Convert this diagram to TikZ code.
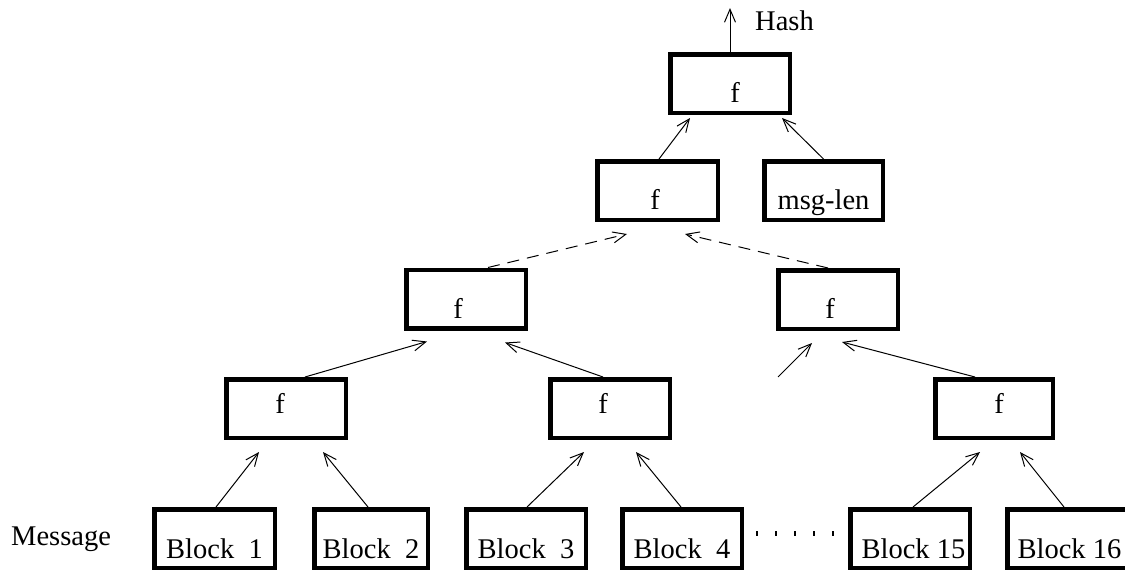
\documentclass[tikz,border=0pt]{standalone}
\usepackage{fontspec}
\setmainfont{Liberation Serif}
\usetikzlibrary{arrows.meta}
\newcommand\shf[2]{\makebox[0pt]{\hspace*{#1}\hspace*{#1}#2}}
\begin{document}
\begin{tikzpicture}[x=1pt,y=-1pt,
  font=\fontsize{28.5}{30}\selectfont,
  boxbase/.style={draw,line width=4.5pt,inner sep=0pt,text depth=0pt,minimum height=58.5pt},
  hibox/.style={boxbase,text height=38pt},
  lowbox/.style={boxbase,text height=9pt},
  blkbox/.style={boxbase,text height=39pt},
  arr/.style={line width=1pt,-{Straight Barb[length=13pt,width=11pt]}},
  darr/.style={arr,dash pattern=on 12pt off 8pt}]
\useasboundingbox (0,0) rectangle (1125,570);
\clip (0,0) rectangle (1125,570);
% boxes
\node[hibox,minimum width=119.5pt] (top) at (730,83.5) {\shf{5pt}{f}};
\node[hibox,minimum width=120.5pt] (l2f) at (657.5,190.5) {\shf{-2.5pt}{f}};
\node[hibox,minimum width=118.5pt] (msg) at (823.5,190.5) {msg-len};
\node[hibox,minimum width=119.5pt] (l3a) at (466,299) {\shf{-8pt}{f}};
\node[hibox,minimum width=119.5pt] (l3b) at (838,299.5) {\shf{-8pt}{f}};
\node[lowbox,minimum width=119.5pt] (l4a) at (286,408.5) {\shf{-6pt}{f}};
\node[lowbox,minimum width=119.5pt] (l4b) at (610,408.5) {\shf{-7pt}{f}};
\node[lowbox,minimum width=117.5pt] (l4c) at (994,408.5) {\shf{5pt}{f}};
\node[blkbox,minimum width=120.5pt] (b1) at (214.5,538.5) {Block\ \ 1};
\node[blkbox,minimum width=113.5pt] (b2) at (371,538.5) {Block\ \ 2};
\node[blkbox,minimum width=119.5pt] (b3) at (526,538.5) {Block\ \ 3};
\node[blkbox,minimum width=119.5pt] (b4) at (682,538.5) {Block\ \ 4};
\node[blkbox,minimum width=119.5pt] (b15) at (910,538.5) {\shf{3.5pt}{Block 15}};
\node[blkbox,minimum width=119.5pt] (b16) at (1067,538.5) {\shf{2.5pt}{Block 16}};
% labels
\node[anchor=base west,inner sep=0pt] (hash) at (755,30) {Hash};
\node[anchor=base west,inner sep=0pt] (message) at (11,545) {Message};
\coordinate (hashtip) at (730,8);
\coordinate (freestart) at (778,377);
% arrows
\draw[arr] (top.north) -- (hashtip);
\draw[arr] ([xshift=1.5pt]l2f.north) -- ([xshift=-40pt,yshift=-3pt]top.south);
\draw[arr] (msg.north) -- ([xshift=52pt,yshift=-3pt]top.south);
\draw[darr] ([xshift=22pt]l3a.north) -- ([xshift=-30.5pt,yshift=-12pt]l2f.south);
\draw[darr] ([xshift=-10pt]l3b.north) -- ([xshift=27.5pt,yshift=-12pt]l2f.south);
\draw[arr] ([xshift=19pt]l4a.north) -- ([xshift=-39pt,yshift=-11pt]l3a.south);
\draw[arr] ([xshift=-7pt]l4b.north) -- ([xshift=39pt,yshift=-12pt]l3a.south);
\draw[arr] (freestart) -- ([xshift=-26pt,yshift=-12pt]l3b.south);
\draw[arr] ([xshift=-19pt]l4c.north) -- ([xshift=4pt,yshift=-11pt]l3b.south);
\draw[arr] ([xshift=1.5pt]b1.north) -- ([xshift=-27pt,yshift=-12pt]l4a.south);
\draw[arr] ([xshift=-3pt]b2.north) -- ([xshift=37pt,yshift=-12pt]l4a.south);
\draw[arr] ([xshift=1pt]b3.north) -- ([xshift=-26pt,yshift=-12pt]l4b.south);
\draw[arr] ([xshift=-1pt]b4.north) -- ([xshift=26pt,yshift=-12pt]l4b.south);
\draw[arr] ([xshift=3pt]b15.north) -- ([xshift=-14pt,yshift=-12pt]l4c.south);
\draw[arr] ([xshift=-3pt]b16.north) -- ([xshift=26pt,yshift=-12pt]l4c.south);
% dots
\foreach \dx in {757,776,795,814,833} {\fill (\dx-1.25,531) rectangle +(2.5,5);}
\end{tikzpicture}
\end{document}
